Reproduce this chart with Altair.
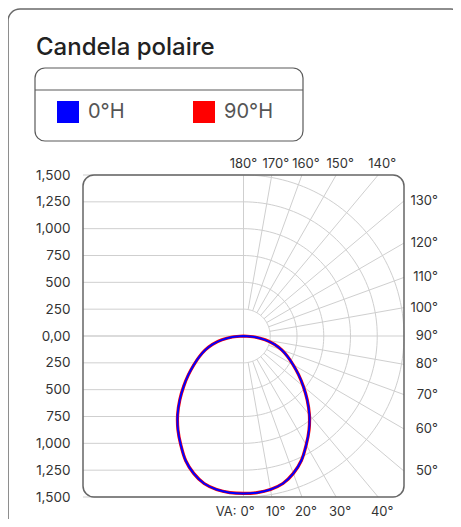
import math
import altair as alt
import pandas as pd

# ---------------- data ----------------
TITLE = "Candela polaire"
SERIES = ["0°H", "90°H"]
COLORS = ["#0000ff", "#ff0000"]
VA_ANGLES = [0, 5, 10, 15, 20, 25, 30, 35, 40, 45, 50, 55, 60, 65, 70, 75, 80, 85, 90]
CD_0H = [1467, 1465, 1452, 1423, 1362, 1280, 1172, 1068, 958, 842, 730, 628, 535, 455, 380, 300, 205, 105, 0]
CD_90H = [1467, 1465, 1452, 1423, 1362, 1280, 1172, 1068, 958, 842, 730, 628, 535, 455, 380, 300, 205, 105, 0]
CD_TICKS = [-1500, -1250, -1000, -750, -500, -250, 0, 250, 500, 750, 1000, 1250, 1500]
RINGS = [250, 500, 750, 1000, 1250, 1500]
RAY_ANGLES = [10, 20, 30, 40, 50, 60, 70, 80, 100, 110, 120, 130, 140, 150, 160, 170]
LABEL_ANGLES = [0, 10, 20, 30, 40, 50, 60, 70, 80, 90, 100, 110, 120, 130, 140, 150, 160, 170, 180]
VA_PREFIX = "VA:"
LIM = 1500
INNER = RINGS[0]

FONT = "Inter"
GRID = "#cfcfcf"

# ---------------- tables ----------------
curve_rows = []
for name, vals in zip(SERIES, [CD_0H, CD_90H]):
    pts = [(-a, v) for a, v in reversed(list(zip(VA_ANGLES, vals)))]
    pts += [(a, v) for a, v in zip(VA_ANGLES[1:], vals[1:])]
    for i, (a, v) in enumerate(pts):
        t = math.radians(a)
        curve_rows.append({"series": name, "order": i,
                           "x": v * math.sin(t), "y": -v * math.cos(t)})
curve = pd.DataFrame(curve_rows)

hlines = pd.DataFrame({"x0": [-LIM] * len(CD_TICKS), "x1": [0] * len(CD_TICKS), "y": CD_TICKS})
axes_lines = pd.DataFrame({"x0": [0, -LIM], "x1": [0, LIM], "y0": [-LIM, 0], "y1": [LIM, 0]})

arc_rows = []
for r in RINGS:
    for t in range(0, 181, 2):
        a = math.radians(t)
        arc_rows.append({"r": r, "t": t, "x": r * math.sin(a), "y": -r * math.cos(a)})
arcs = pd.DataFrame(arc_rows)

ray_rows = []
for th in RAY_ANGLES:
    a = math.radians(th)
    s, c = math.sin(a), math.cos(a)
    rend = LIM / max(abs(s), abs(c))
    ray_rows.append({"x0": INNER * s, "y0": -INNER * c, "x1": rend * s, "y1": -rend * c})
rays = pd.DataFrame(ray_rows)

lab_rows = []
for th in LABEL_ANGLES:
    a = math.radians(th)
    s, c = math.sin(a), math.cos(a)
    rend = LIM / max(abs(s), abs(c))
    side = "bottom" if th <= 40 else ("top" if th >= 140 else "right")
    if th == 180:
        side = "apex"
    lab_rows.append({"x": rend * s, "y": -rend * c, "text": f"{th}°", "side": side})
labels = pd.DataFrame(lab_rows)

# ---------------- scales / axes ----------------
xs = alt.Scale(domain=[-LIM, LIM], nice=False, zero=False)
ys = alt.Scale(domain=[-LIM, LIM], nice=False, zero=False)
yaxis = alt.Axis(values=CD_TICKS, grid=False, ticks=False, domain=False,
                 labelExpr="datum.value == 0 ? '0,00' : format(abs(datum.value), ',')",
                 labelPadding=13, labelFontSize=13.5, labelFont=FONT, labelColor="#333",
                 title=None)


def X(f):
    return alt.X(f, type="quantitative", scale=xs, axis=None)


def Y(f):
    return alt.Y(f, type="quantitative", scale=ys, axis=yaxis)


one = pd.DataFrame({"k": [0]})

card = alt.Chart(one).mark_rect(fill="white", fillOpacity=0, stroke="#6a6a6a", strokeWidth=1.5,
                                cornerRadius=12).encode(
    x=alt.value(-75), x2=alt.value(380), y=alt.value(-166), y2=alt.value(357))

title = alt.Chart(one).mark_text(text=TITLE, align="left", baseline="alphabetic", font=FONT,
                                 fontSize=24, fontWeight=500, color="#222").encode(
    x=alt.value(-47), y=alt.value(-120))

legend_box = alt.Chart(one).mark_rect(fillOpacity=0, stroke="#5a5a5a", strokeWidth=1.2,
                                      cornerRadius=10).encode(
    x=alt.value(-48), x2=alt.value(220), y=alt.value(-107), y2=alt.value(-34))
legend_div = alt.Chart(one).mark_rule(color="#5a5a5a", strokeWidth=1.2).encode(
    x=alt.value(-48), x2=alt.value(220), y=alt.value(-85))

hgrid = alt.Chart(hlines).mark_rule(color=GRID, strokeWidth=1).encode(
    x=X("x0"), x2="x1", y=Y("y"))
cross = alt.Chart(axes_lines).mark_rule(color=GRID, strokeWidth=1).encode(
    x=X("x0"), x2="x1", y=Y("y0"), y2="y1")
arc_layer = alt.Chart(arcs).mark_line(color=GRID, strokeWidth=1).encode(
    x=X("x"), y=Y("y"), detail="r:N", order="t:Q")
ray_layer = alt.Chart(rays).mark_rule(color=GRID, strokeWidth=1).encode(
    x=X("x0"), x2="x1", y=Y("y0"), y2="y1")

frame = alt.Chart(one).mark_rect(fillOpacity=0, stroke="#666", strokeWidth=1.5,
                                 cornerRadius=11).encode(
    x=alt.value(0), x2=alt.value(321), y=alt.value(0), y2=alt.value(322))

txt = dict(font=FONT, fontSize=13, color="#333")
lab_apex = alt.Chart(labels).transform_filter(alt.datum.side == "apex").mark_text(
    align="center", baseline="alphabetic", dx=0, dy=-7, **txt).encode(
    x=X("x"), y=Y("y"), text="text:N")
lab_top = alt.Chart(labels).transform_filter(alt.datum.side == "top").mark_text(
    align="center", baseline="alphabetic", dx=4, dy=-7, **txt).encode(
    x=X("x"), y=Y("y"), text="text:N")
lab_right = alt.Chart(labels).transform_filter(alt.datum.side == "right").mark_text(
    align="right", baseline="middle", dx=34, **txt).encode(
    x=X("x"), y=Y("y"), text="text:N")
lab_bottom = alt.Chart(labels).transform_filter(alt.datum.side == "bottom").mark_text(
    align="center", baseline="alphabetic", dx=4, dy=18.5, **txt).encode(
    x=X("x"), y=Y("y"), text="text:N")
va = alt.Chart(pd.DataFrame({"x": [0], "y": [-LIM], "t": [VA_PREFIX]})).mark_text(
    align="right", baseline="alphabetic", dx=-7, dy=18.5, **txt).encode(
    x=X("x"), y=Y("y"), text="t:N")

cscale = alt.Scale(domain=SERIES, range=COLORS)
color_leg = alt.Color("series:N", scale=cscale, title=None,
                      legend=alt.Legend(
                          orient="none", legendX=-26, legendY=-74, direction="horizontal",
                          symbolType="square", symbolSize=484, symbolStrokeWidth=0,
                          symbolOpacity=1,
                          labelFont=FONT, labelFontSize=20, labelColor="#555",
                          labelOffset=9, columnPadding=68, padding=0, title=None))
color_noleg = alt.Color("series:N", scale=cscale, legend=None)

legend_src = alt.Chart(curve).mark_point(shape="square", filled=True, size=0, opacity=1).encode(
    x=X("x"), y=Y("y"), color=color_leg)

red = alt.Chart(curve).transform_filter(alt.datum.series == SERIES[1]).mark_line(
    strokeWidth=3.2, interpolate="catmull-rom").encode(
    x=X("x"), y=Y("y"), order="order:Q", color=color_noleg)
blue = alt.Chart(curve).transform_filter(alt.datum.series == SERIES[0]).mark_line(
    strokeWidth=2, interpolate="catmull-rom").encode(
    x=X("x"), y=Y("y"), order="order:Q", color=color_noleg)

chart = alt.layer(
    card, title, legend_box, legend_div,
    hgrid, cross, arc_layer, ray_layer, frame,
    lab_apex, lab_top, lab_right, lab_bottom, va,
    legend_src, red, blue,
).properties(
    width=321, height=322,
    autosize=alt.AutoSizeParams(type="none"),
    padding={"left": 75, "top": 167, "right": 49, "bottom": 22},
).configure_view(stroke=None)

chart.save("out.html", embed_options={"renderer": "svg", "actions": False})
